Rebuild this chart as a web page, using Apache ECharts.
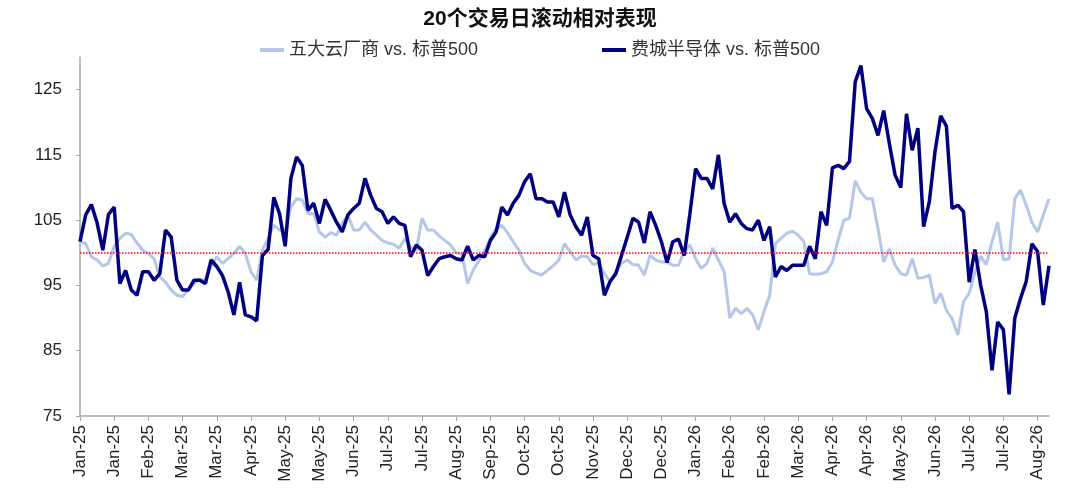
<!DOCTYPE html>
<html>
<head>
<meta charset="utf-8">
<script src="https://cdn.jsdelivr.net/npm/echarts@6/dist/echarts.min.js"></script>
<style>
  html, body { margin: 0; padding: 0; background: #fff; }
  #chart { width: 1080px; height: 499px; }
</style>
</head>
<body>
<div id="chart"></div>
<script>
// one label every 15 trading days, one data point every 2.5 trading days
var tickLabels = ['Jan-25', 'Jan-25', 'Feb-25', 'Mar-25', 'Mar-25', 'Apr-25', 'May-25', 'May-25', 'Jun-25', 'Jul-25',
  'Jul-25', 'Aug-25', 'Sep-25', 'Oct-25', 'Oct-25', 'Nov-25', 'Dec-25', 'Dec-25', 'Jan-26', 'Feb-26',
  'Feb-26', 'Mar-26', 'Apr-26', 'Apr-26', 'May-26', 'Jun-26', 'Jul-26', 'Jul-26', 'Aug-26'];
var pointsPerTick = 6;

// 五大云厂商 vs. 标普500
var cloudVsSpx = [
  101.7, 101.4, 99.4, 98.9, 98.0, 98.4, 101.0, 102.2, 103.0, 102.8, 101.5, 100.4, 99.9, 99.1, 96.3, 95.5, 94.3, 93.5, 93.3, 94.3, 95.3, 96.0, 95.8, 97.9, 99.4, 98.4, 99.1, 99.9, 101.0,
  99.9, 97.1, 95.8, 100.4, 102.2, 104.2, 103.5, 103.2, 107.0, 108.3, 108.1, 106.0, 106.0, 103.2, 102.4, 103.1, 102.7, 104.5, 105.8, 103.5, 103.5, 104.7, 103.5, 102.7, 101.9, 101.5, 101.3, 100.7, 102.2,
  100.9, 100.4, 105.3, 103.5, 103.5, 102.6, 101.9, 101.2, 100.0, 99.8, 95.3, 97.4, 98.8, 100.3, 102.3, 103.7, 104.2, 103.1, 101.7, 100.4, 98.4, 97.3, 96.9, 96.6, 97.3, 98.0, 98.9, 101.4, 100.2,
  98.9, 99.5, 99.4, 98.2, 98.4, 96.8, 95.6, 97.2, 98.4, 98.9, 98.2, 98.1, 96.6, 99.6, 98.9, 98.6, 98.6, 98.1, 98.1, 100.2, 101.2, 99.1, 97.6, 98.4, 100.7, 98.9, 97.1, 90.0, 91.5,
  90.7, 91.5, 90.5, 88.2, 91.0, 93.5, 101.4, 102.2, 103.0, 103.3, 102.7, 101.7, 96.8, 96.7, 96.8, 97.1, 98.6, 101.9, 105.0, 105.3, 111.0, 109.3, 108.3, 108.3, 103.7, 98.6, 100.6, 98.1, 96.8,
  96.6, 99.1, 96.1, 96.2, 96.6, 92.2, 93.8, 91.2, 89.9, 87.4, 92.5, 93.8, 97.1, 99.5, 98.2, 101.7, 104.7, 98.9, 99.1, 108.3, 109.6, 107.3, 104.7, 103.2, 105.8, 108.3
];

// 费城半导体 vs. 标普500
var soxVsSpx = [
  101.7, 105.8, 107.4, 104.6, 100.4, 105.9, 107.0, 95.3, 97.3, 94.3, 93.5, 97.1, 97.1, 95.8, 96.8, 103.5, 102.4, 95.8, 94.3, 94.3, 95.8, 95.8, 95.3, 98.9, 97.9, 96.5, 94.0, 90.5, 95.5,
  90.5, 90.2, 89.6, 99.6, 100.5, 108.5, 106.0, 101.0, 111.4, 114.7, 113.4, 106.5, 107.6, 104.5, 108.2, 106.5, 104.7, 103.2, 105.8, 106.8, 107.6, 111.4, 108.8, 106.8, 106.3, 104.5, 105.5, 104.5, 104.2,
  99.4, 101.2, 100.4, 96.5, 97.9, 99.1, 99.4, 99.6, 99.1, 98.9, 101.0, 98.9, 99.6, 99.4, 101.9, 103.2, 107.0, 105.8, 107.6, 108.8, 110.9, 112.1, 108.3, 108.3, 107.8, 107.8, 105.5, 109.3, 105.8,
  104.0, 102.7, 105.5, 99.6, 99.1, 93.5, 95.6, 96.8, 99.6, 102.4, 105.3, 104.7, 101.5, 106.3, 104.2, 101.7, 98.5, 101.7, 102.1, 99.6, 106.0, 112.9, 111.4, 111.4, 109.8, 115.0, 107.6, 104.7, 106.0,
  104.5, 103.7, 103.5, 105.0, 101.9, 104.0, 96.3, 97.9, 97.3, 98.1, 98.1, 98.1, 101.0, 99.1, 106.3, 104.2, 113.0, 113.4, 112.9, 114.0, 126.2, 128.7, 122.1, 120.6, 118.0, 121.8, 116.7, 111.9, 110.0,
  121.3, 115.7, 119.1, 104.0, 107.8, 115.5, 121.0, 119.4, 106.8, 107.3, 106.3, 95.5, 100.5, 95.1, 91.0, 82.0, 89.4, 88.2, 78.3, 90.0, 93.0, 95.6, 101.4, 100.2, 92.0, 98.0
];

var baseline = 100;

var font = "'Liberation Sans', 'Noto Sans CJK SC', sans-serif";
var dayIndex = soxVsSpx.map(function (v, i) { return i; });

var myChart = echarts.init(document.getElementById('chart'));

option = {
  animation: false,
  backgroundColor: '#fff',
  title: {
    text: '20个交易日滚动相对表现',
    left: 'center',
    top: 4,
    textStyle: { fontFamily: font, fontSize: 21, fontWeight: 'bold', color: '#111' }
  },
  legend: {
    top: 36,
    left: 'center',
    itemGap: 124,
    itemWidth: 24,
    itemHeight: 4,
    icon: 'rect',
    textStyle: { fontFamily: font, fontSize: 18, color: '#333' },
    data: ['五大云厂商 vs. 标普500', '费城半导体 vs. 标普500']
  },
  grid: { left: 80, right: 31, top: 57, bottom: 83 },
  xAxis: {
    type: 'category',
    boundaryGap: false,
    data: dayIndex,
    axisLine: { lineStyle: { color: '#a6a6a6', width: 1.5 } },
    axisTick: { interval: pointsPerTick - 1, length: 5, lineStyle: { color: '#a6a6a6' } },
    axisLabel: {
      interval: pointsPerTick - 1,
      rotate: 90,
      margin: 9,
      fontFamily: font,
      fontSize: 17,
      color: '#222',
      formatter: function (v, idx) { return tickLabels[idx / pointsPerTick] || ''; }
    },
    splitLine: { show: false }
  },
  yAxis: {
    type: 'value',
    min: 75,
    max: 130,
    interval: 10,
    axisLine: { show: true, lineStyle: { color: '#a6a6a6', width: 1.5 } },
    axisTick: { show: true, length: 4, lineStyle: { color: '#a6a6a6' } },
    axisLabel: { showMaxLabel: false, margin: 18, fontFamily: font, fontSize: 17, color: '#222' },
    splitLine: { show: false }
  },
  series: [
    {
      name: '五大云厂商 vs. 标普500',
      type: 'line',
      data: cloudVsSpx,
      symbol: 'none',
      lineStyle: { color: '#b4c7e7', width: 3 },
      itemStyle: { color: '#b4c7e7' },
      markLine: {
        silent: true,
        symbol: 'none',
        label: { show: false },
        lineStyle: { color: '#ff0000', type: 'dotted', width: 1.5 },
        data: [{ yAxis: baseline }]
      }
    },
    {
      name: '费城半导体 vs. 标普500',
      type: 'line',
      data: soxVsSpx,
      symbol: 'none',
      lineStyle: { color: '#000080', width: 3.5 },
      itemStyle: { color: '#000080' }
    }
  ]
};

myChart.setOption(option);
</script>
</body>
</html>
